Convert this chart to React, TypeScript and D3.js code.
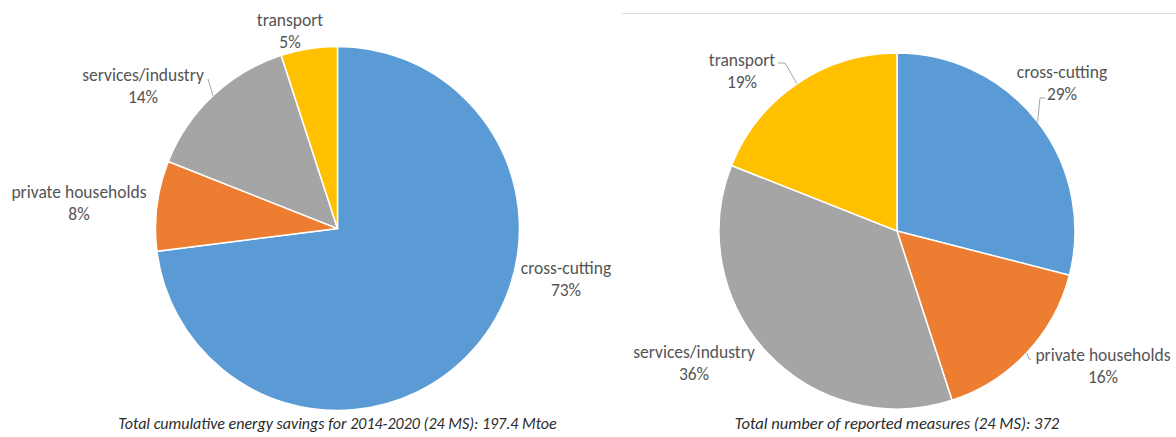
import React from "react";
import * as d3 from "d3";

const categories = ["cross-cutting", "private households", "services/industry", "transport"];
const savingsShare = [73, 8, 14, 5];
const measuresShare = [29, 16, 36, 19];
const colors = ["#5B9BD5", "#ED7D31", "#A5A5A5", "#FFC000"];
const captionLeft = "Total cumulative energy savings for 2014-2020 (24 MS): 197.4 Mtoe";
const captionRight = "Total number of reported measures (24 MS): 372";

// label layout (offsets from pie centre, name-line centre)
const leftLabelPos = [[228.5, 39.5], [-258.5, -36.5], [-194.5, -153.5], [-47.5, -208.5]];
const rightLabelPos = [[165, -159], [206, 124], [-203, 121], [-155, -171]];
// leader elbow points (offsets from pie centre), null = no leader
const leftLeaders: (number[][] | null)[] = [null, null, [[-129.5, -149.5]], null];
const rightLeaders: (number[][] | null)[] = [
  [[148, -133], [143, -133]],
  [[134, 128], [132, 128]],
  null,
  [[-119, -168], [-112, -168]],
];

const FONT = "Carlito, Calibri, Lato, 'Open Sans', sans-serif";
const TEXT = "#555555";

function Pie({ cx, cy, r, values, labelPos, leaders, caption, captionSize }: any) {
  const pie = d3.pie<number>().sort(null).value((d) => d).startAngle(0).endAngle(2 * Math.PI);
  const arcs = pie(values);
  const arc = d3.arc<any>().innerRadius(0).outerRadius(r);
  const edge = d3.arc<any>().innerRadius(r).outerRadius(r);
  const total = d3.sum(values);
  return (
    <g transform={`translate(${cx},${cy})`}>
      {arcs.map((a, i) => (
        <path key={i} d={arc(a) as string} fill={colors[i]} stroke="#fff" strokeWidth={1.5} />
      ))}
      {arcs.map((a, i) => {
        const lp = leaders[i];
        if (!lp) return null;
        const e = edge.centroid(a);
        const pts = [e, ...lp.slice().reverse()];
        const line = d3.line()(pts as [number, number][]);
        return <path key={"l" + i} d={line as string} fill="none" stroke="#a6a6a6" strokeWidth={1} />;
      })}
      {arcs.map((a, i) => {
        const [x, y] = labelPos[i];
        return (
          <text key={"t" + i} x={x} y={y} textAnchor="middle" fontFamily={FONT} fontSize={17.5} fill={TEXT}>
            <tspan x={x} dy="0.35em">{categories[i]}</tspan>
            <tspan x={x} dy="1.25em">{d3.format(".0%")(values[i] / total)}</tspan>
          </text>
        );
      })}
      <text x={0} y={425 - cy + 4} textAnchor="middle" fontFamily={FONT} fontStyle="italic" fontSize={captionSize} fill="#2b2b2b">
        {caption}
      </text>
    </g>
  );
}

export default function App() {
  return (
    <svg width={1176} height={437} style={{ position: "absolute", left: 0, top: 0, background: "#fff" }}>
      <rect width={1176} height={437} fill="#fff" />
      <line x1={622} x2={1176} y1={13.5} y2={13.5} stroke="#dcdcdc" strokeWidth={1} />
      <Pie cx={337.5} cy={228.5} r={182} values={savingsShare} labelPos={leftLabelPos} leaders={leftLeaders} caption={captionLeft} captionSize={16} />
      <Pie cx={897} cy={231} r={178} values={measuresShare} labelPos={rightLabelPos} leaders={rightLeaders} caption={captionRight} captionSize={16.5} />
    </svg>
  );
}
